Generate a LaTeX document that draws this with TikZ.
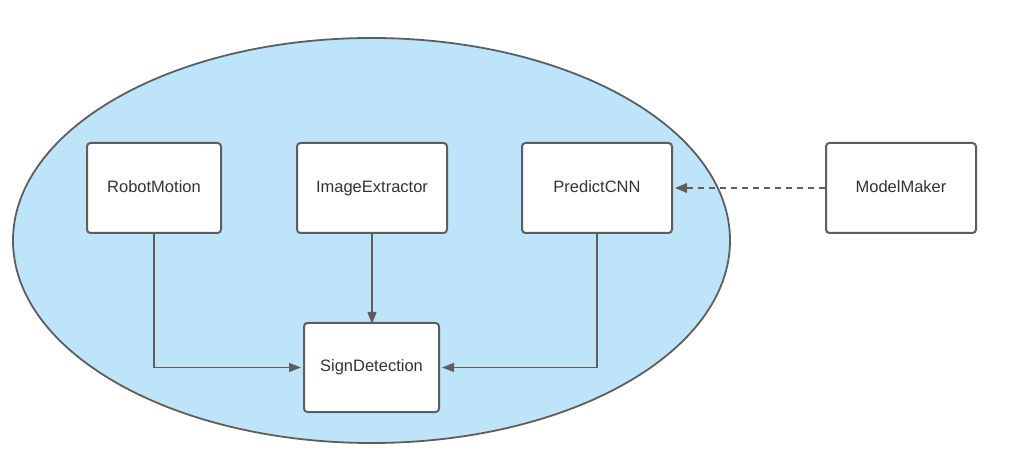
\documentclass[tikz,border=0pt]{standalone}
\usepackage{fontspec}
\setmainfont{Liberation Sans}
\usetikzlibrary{arrows.meta,shapes.geometric}
\definecolor{linegray}{HTML}{5E5E5E}
\definecolor{bubble}{HTML}{BDE4F8}
\definecolor{txt}{HTML}{333333}
\begin{document}
\begin{tikzpicture}[x=1pt,y=-1pt,
  box/.style={draw=linegray,line width=2pt,fill=white,rounded corners=3.5pt,
    minimum width=#1,minimum height=90pt,inner sep=0pt,font=\fontsize{16.5}{18}\selectfont,text=txt,
    text height=12pt,text depth=3.5pt},
  box/.default=150pt,
  conn/.style={draw=linegray,line width=1.3pt,-{Triangle[length=12pt,width=9pt]}},
  dconn/.style={draw=linegray,line width=2pt,dash pattern=on 6.5pt off 4.5pt,-{Triangle[length=12pt,width=9.5pt]}}]
\useasboundingbox (0,0) rectangle (1013,457);
\fill[white] (0,0) rectangle (1013,457);
\node[ellipse,draw=linegray,line width=1.8pt,fill=bubble,minimum width=717pt,minimum height=405pt,inner sep=0pt] (sys) at (371.5,240.5) {};
\node[box=134pt] (rm) at (154,188) {RobotMotion};
\node[box] (ie) at (372,188) {ImageExtractor};
\node[box] (pc) at (597,188) {PredictCNN};
\node[box] (mm) at (901,188) {ModelMaker};
\node[box=135pt,minimum height=89pt] (sd) at (371.5,367.5) {SignDetection};
\draw[conn] (rm.south) |- ([xshift=-2pt]sd.west);
\draw[conn] (ie.south) -- ([yshift=-2pt]ie.south |- sd.north);
\draw[conn] (pc.south) |- ([xshift=2pt]sd.east);
\draw[dconn] (mm.west) -- ([xshift=2pt]pc.east);
\end{tikzpicture}
\end{document}
